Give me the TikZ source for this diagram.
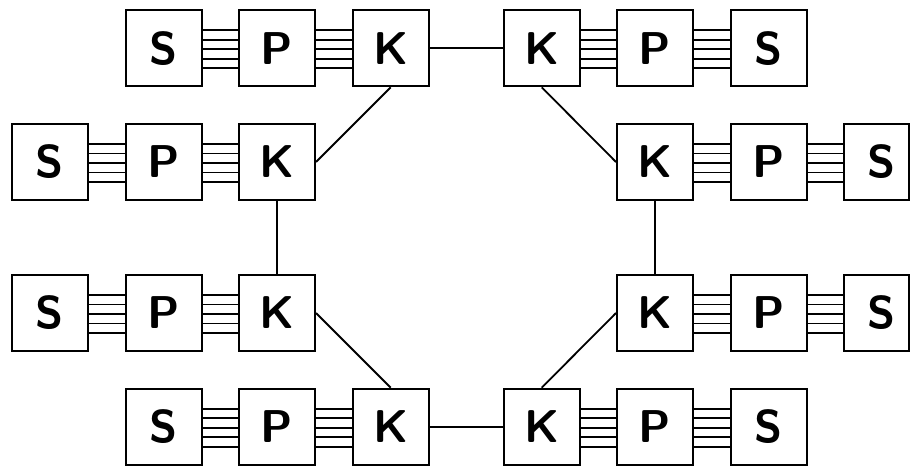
\documentclass[tikz,border=0pt]{standalone}
\usepackage{fontspec}
\tikzset{
  unit/.style={draw, line width=2pt, minimum size=76pt, inner sep=0pt, font=\fontsize{46}{46}\selectfont\sffamily\bfseries},
  link/.style={line width=1.8pt},
  busline/.style={line width=1.9pt}
}
\newcommand{\busconn}[2]{%
  \foreach \d in {-19,-9.5,0,9.5,19}{%
    \draw[busline] ([yshift=\d pt-1pt]#1.east) -- ([yshift=\d pt-1pt]#2.west);%
  }%
}
\begin{document}
\begin{tikzpicture}[x=1pt,y=-1pt]
\useasboundingbox (0,0) rectangle (911,466);
% columns
\def\ca{50}\def\cb{163.5}\def\cc{277}\def\cd{390.7}
\def\ce{541.7}\def\cf{655}\def\cg{768.5}\def\ch{876.5}
% rows
\def\ra{48.3}\def\rb{162}\def\rc{313}\def\rd{426.7}
% row 0
\node[unit] (s0l) at (\cb,\ra) {S};
\node[unit] (p0l) at (\cc,\ra) {P};
\node[unit] (k0l) at (\cd,\ra) {K};
\node[unit] (k0r) at (\ce,\ra) {K};
\node[unit] (p0r) at (\cf,\ra) {P};
\node[unit] (s0r) at (\cg,\ra) {S};
% row 1
\node[unit] (s1l) at (\ca,\rb) {S};
\node[unit] (p1l) at (\cb,\rb) {P};
\node[unit] (k1l) at (\cc,\rb) {K};
\node[unit] (k1r) at (\cf,\rb) {K};
\node[unit] (p1r) at (\cg,\rb) {P};
\node[unit, minimum width=65pt] (s1r) at (\ch,\rb) {\hspace*{11pt}S};
% row 2
\node[unit] (s2l) at (\ca,\rc) {S};
\node[unit] (p2l) at (\cb,\rc) {P};
\node[unit] (k2l) at (\cc,\rc) {K};
\node[unit] (k2r) at (\cf,\rc) {K};
\node[unit] (p2r) at (\cg,\rc) {P};
\node[unit, minimum width=65pt] (s2r) at (\ch,\rc) {\hspace*{11pt}S};
% row 3
\node[unit] (s3l) at (\cb,\rd) {S};
\node[unit] (p3l) at (\cc,\rd) {P};
\node[unit] (k3l) at (\cd,\rd) {K};
\node[unit] (k3r) at (\ce,\rd) {K};
\node[unit] (p3r) at (\cf,\rd) {P};
\node[unit] (s3r) at (\cg,\rd) {S};
% buses
\busconn{s0l}{p0l}\busconn{p0l}{k0l}
\busconn{k0r}{p0r}\busconn{p0r}{s0r}
\busconn{s1l}{p1l}\busconn{p1l}{k1l}
\busconn{k1r}{p1r}\busconn{p1r}{s1r}
\busconn{s2l}{p2l}\busconn{p2l}{k2l}
\busconn{k2r}{p2r}\busconn{p2r}{s2r}
\busconn{s3l}{p3l}\busconn{p3l}{k3l}
\busconn{k3r}{p3r}\busconn{p3r}{s3r}
% ring
\draw[link] (k0l.east) -- (k0r.west);
\draw[link] (k0l.south) -- (k1l.east);
\draw[link] (k1l.south) -- (k2l.north);
\draw[link] (k2l.east) -- (k3l.north);
\draw[link] (k3l.east) -- (k3r.west);
\draw[link] (k3r.north) -- (k2r.west);
\draw[link] (k2r.north) -- (k1r.south);
\draw[link] (k1r.west) -- (k0r.south);
\end{tikzpicture}
\end{document}
